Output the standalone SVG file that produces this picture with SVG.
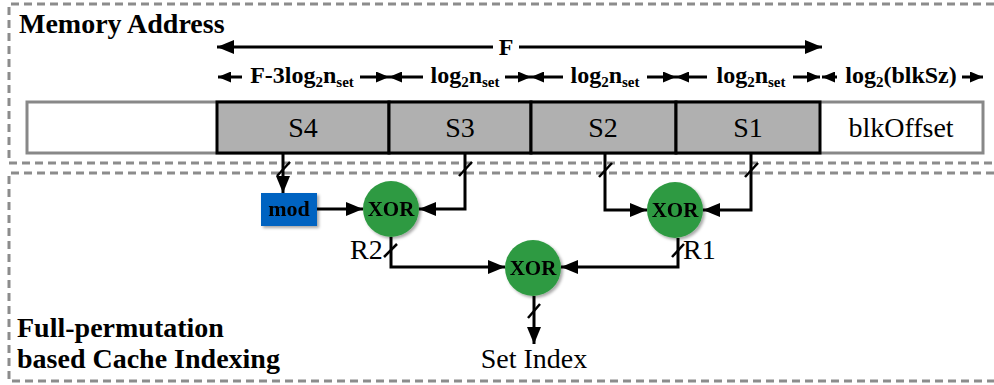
<svg xmlns="http://www.w3.org/2000/svg" width="994" height="385" viewBox="0 0 994 385">
  <defs>
    <style>
      .frame { fill: none; stroke: #8c8c8c; stroke-width: 3; stroke-dasharray: 8 5; }
      .wire { fill: none; stroke: #000; stroke-width: 3; }
      .dim { fill: none; stroke: #000; stroke-width: 3; }
      .tick { stroke: #000; stroke-width: 2.5; }
      .title { font-family: "Liberation Serif", "Times New Roman", serif; font-weight: bold; font-size: 28px; fill: #000; }
      .lbl { font-family: "Liberation Serif", "Times New Roman", serif; font-size: 28px; fill: #000; }
      .dimtxt { font-family: "Liberation Serif", "Times New Roman", serif; font-weight: bold; font-size: 24px; fill: #000; }
      .sub { font-size: 15px; }
      .cell { fill: #b0b0b0; stroke: #000; stroke-width: 3; }
      .xor { fill: #2f9a42; }
      .xortxt { font-family: "Liberation Serif", "Times New Roman", serif; font-weight: bold; font-size: 21px; fill: #000; text-anchor: middle; }
    </style>
    <marker id="head" markerUnits="userSpaceOnUse" markerWidth="17" markerHeight="14" refX="17" refY="7" orient="auto">
      <path d="M0,0 L17,7 L0,14 z" fill="#000"/>
    </marker>
    <marker id="headS" markerUnits="userSpaceOnUse" markerWidth="13" markerHeight="11" refX="13" refY="5.5" orient="auto">
      <path d="M0,0 L13,5.5 L0,11 z" fill="#000"/>
    </marker>
    <filter id="shadow" x="-20%" y="-20%" width="150%" height="150%">
      <feDropShadow dx="2" dy="2" stdDeviation="1.5" flood-color="#000" flood-opacity="0.35"/>
    </filter>
  </defs>

  <!-- dashed section frames, open on the right -->
  <path class="frame" d="M994,4 H9 V163 H994"/>
  <path class="frame" d="M994,173 H9 V381 H994"/>

  <text class="title" x="19" y="33">Memory Address</text>
  <text class="title" x="17" y="337">Full-permutation</text>
  <text class="title" x="17" y="368">based Cache Indexing</text>

  <!-- address word -->
  <g id="address">
    <rect x="27" y="102" width="956" height="51" fill="#fff" stroke="#888" stroke-width="3"/>
    <g id="s4"><rect class="cell" x="217" y="102" width="172" height="51"/><text class="lbl" x="303" y="137" text-anchor="middle">S4</text></g>
    <g id="s3"><rect class="cell" x="389" y="102" width="142" height="51"/><text class="lbl" x="460" y="137" text-anchor="middle">S3</text></g>
    <g id="s2"><rect class="cell" x="531" y="102" width="145" height="51"/><text class="lbl" x="603" y="137" text-anchor="middle">S2</text></g>
    <g id="s1"><rect class="cell" x="676" y="102" width="144" height="51"/><text class="lbl" x="748" y="137" text-anchor="middle">S1</text></g>
    <g id="blkOffset"><text class="lbl" x="901" y="137" text-anchor="middle">blkOffset</text></g>
  </g>

  <!-- field widths -->
  <g id="dimensions">
    <line class="dim" x1="493" y1="47" x2="217" y2="47" marker-end="url(#head)"/>
    <line class="dim" x1="519" y1="47" x2="822" y2="47" marker-end="url(#head)"/>
    <text class="dimtxt" x="506" y="55" text-anchor="middle">F</text>

    <line class="dim" x1="242" y1="77" x2="218" y2="77" marker-end="url(#headS)"/>
    <line class="dim" x1="360" y1="77" x2="389" y2="77" marker-end="url(#headS)"/>
    <text class="dimtxt" x="302" y="83" text-anchor="middle">F-3log<tspan class="sub" dy="4">2</tspan><tspan dy="-4">n</tspan><tspan class="sub" dy="4">set</tspan></text>

    <line class="dim" x1="423" y1="77" x2="389" y2="77" marker-end="url(#headS)"/>
    <line class="dim" x1="505" y1="77" x2="531" y2="77" marker-end="url(#headS)"/>
    <text class="dimtxt" x="465" y="83" text-anchor="middle">log<tspan class="sub" dy="4">2</tspan><tspan dy="-4">n</tspan><tspan class="sub" dy="4">set</tspan></text>

    <line class="dim" x1="563" y1="77" x2="531" y2="77" marker-end="url(#headS)"/>
    <line class="dim" x1="647" y1="77" x2="676" y2="77" marker-end="url(#headS)"/>
    <text class="dimtxt" x="605" y="83" text-anchor="middle">log<tspan class="sub" dy="4">2</tspan><tspan dy="-4">n</tspan><tspan class="sub" dy="4">set</tspan></text>

    <line class="dim" x1="707" y1="77" x2="676" y2="77" marker-end="url(#headS)"/>
    <line class="dim" x1="793" y1="77" x2="820" y2="77" marker-end="url(#headS)"/>
    <text class="dimtxt" x="751" y="83" text-anchor="middle">log<tspan class="sub" dy="4">2</tspan><tspan dy="-4">n</tspan><tspan class="sub" dy="4">set</tspan></text>

    <line class="dim" x1="837" y1="77" x2="822" y2="77" marker-end="url(#headS)"/>
    <line class="dim" x1="962" y1="77" x2="983" y2="77" marker-end="url(#headS)"/>
    <text class="dimtxt" x="901" y="83" text-anchor="middle">log<tspan class="sub" dy="4">2</tspan><tspan dy="-4">(blkSz)</tspan></text>
  </g>

  <!-- nodes -->
  <g id="mod" filter="url(#shadow)">
    <rect x="261" y="193" width="56" height="33" fill="#0563c1"/>
    <text x="289" y="216" text-anchor="middle" font-family="'Liberation Serif', 'Times New Roman', serif" font-weight="bold" font-size="22" fill="#000">mod</text>
  </g>
  <g id="xor1" filter="url(#shadow)">
    <circle class="xor" cx="391" cy="209" r="28"/>
    <text class="xortxt" x="391" y="216">XOR</text>
  </g>
  <g id="xor2" filter="url(#shadow)">
    <circle class="xor" cx="675" cy="210" r="28"/>
    <text class="xortxt" x="675" y="217">XOR</text>
  </g>
  <g id="xor3" filter="url(#shadow)">
    <circle class="xor" cx="533" cy="268" r="28"/>
    <text class="xortxt" x="533" y="275">XOR</text>
  </g>
  <g id="setIndex">
    <text class="lbl" x="534" y="368" text-anchor="middle">Set Index</text>
  </g>

  <!-- connectors -->
  <g id="connectors">
    <polyline class="wire" points="283,153 283,193" marker-end="url(#head)"/>
    <line class="wire" x1="317" y1="209" x2="363" y2="209" marker-end="url(#head)"/>
    <polyline class="wire" points="465,153 465,209 419,209" marker-end="url(#head)"/>
    <polyline class="wire" points="605,153 605,210 647,210" marker-end="url(#head)"/>
    <polyline class="wire" points="751,153 751,210 703,210" marker-end="url(#head)"/>
    <polyline class="wire" points="391,237 391,267 505,267" marker-end="url(#head)"/>
    <polyline class="wire" points="678,238 678,267 561,267" marker-end="url(#head)"/>
    <line class="wire" x1="534" y1="296" x2="534" y2="344" marker-end="url(#head)"/>

    <!-- bus-width ticks -->
    <line class="tick" x1="277" y1="176" x2="290" y2="162"/>
    <line class="tick" x1="459" y1="176" x2="472" y2="162"/>
    <line class="tick" x1="599" y1="177" x2="612" y2="163"/>
    <line class="tick" x1="745" y1="177" x2="758" y2="163"/>
    <line class="tick" x1="384" y1="257" x2="397" y2="244"/>
    <line class="tick" x1="672" y1="257" x2="684" y2="244"/>
    <line class="tick" x1="528" y1="318" x2="540" y2="304"/>

    <text class="lbl" x="350" y="259">R2</text>
    <text class="lbl" x="683" y="259">R1</text>
  </g>
</svg>
